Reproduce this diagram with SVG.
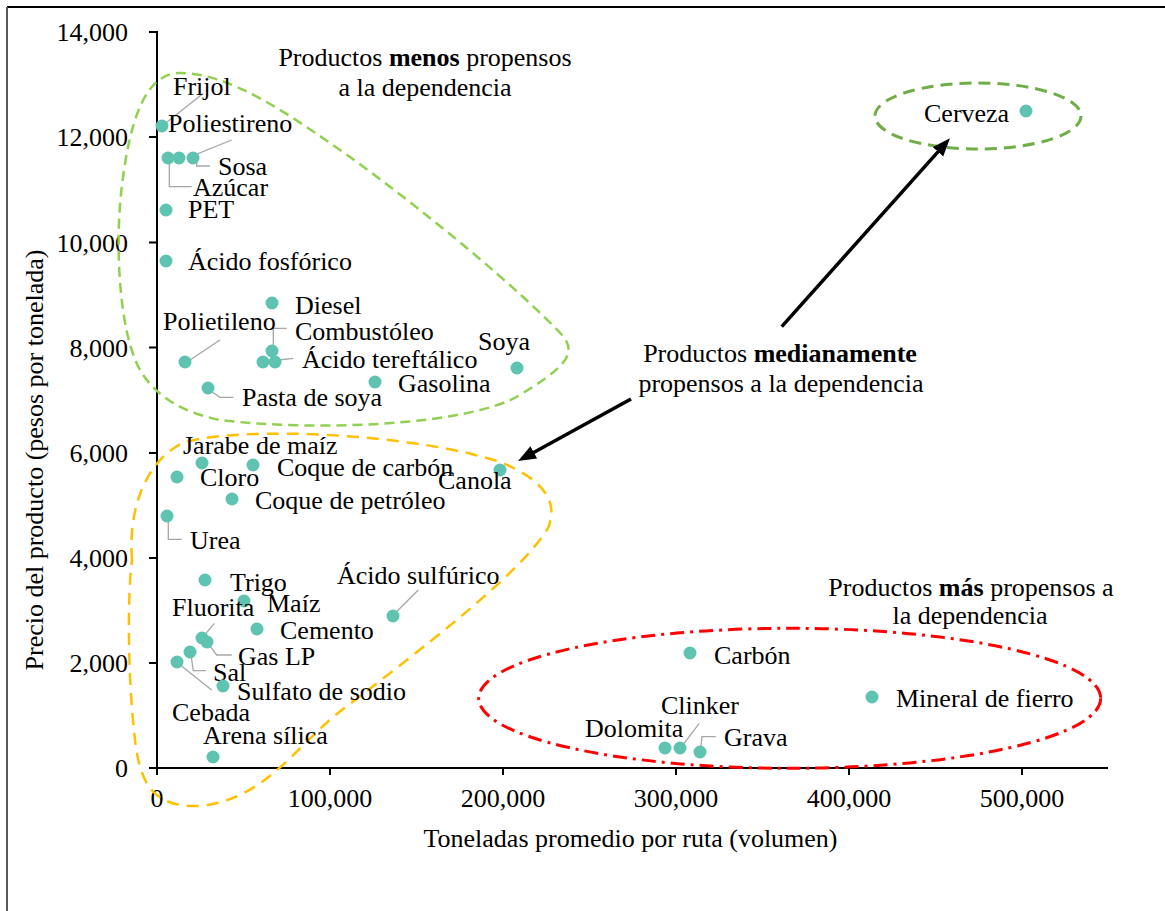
<svg xmlns="http://www.w3.org/2000/svg" width="1165" height="911" viewBox="0 0 1165 911">
<style>
text{font-family:"Liberation Serif","Times New Roman",serif;font-size:26px;fill:#000}
.b{font-weight:bold}
.tk{text-anchor:end}
.tx{text-anchor:middle}
.pt{fill:#5ec4b1}
.ld{fill:none;stroke:#a6a6a6;stroke-width:1.3}
.ax{stroke:#000;stroke-width:2;fill:none}
.arr{stroke:#000;stroke-width:3.5;fill:none;marker-end:url(#ah)}
</style>
<defs>
<marker id="ah" markerUnits="userSpaceOnUse" markerWidth="20" markerHeight="16" refX="8" refY="7" orient="auto">
<path d="M0,0 L18,7 L0,14 z" fill="#000"/>
</marker>
</defs>
<rect width="1165" height="911" fill="#fff"/>
<g id="frame">
<line x1="7" y1="7" x2="1165" y2="7" stroke="#000" stroke-width="2"/>
<line x1="7" y1="7" x2="7" y2="911" stroke="#595959" stroke-width="2"/>
</g>
<g id="axes">
<path class="ax" d="M157,31 V768 H1108"/>
<path class="ax" d="M149,32 H157 M149,137 H157 M149,242.5 H157 M149,347.5 H157 M149,453 H157 M149,558 H157 M149,663 H157 M149,768 H157"/>
<path class="ax" d="M157,768 V775 M330,768 V775 M503,768 V775 M676,768 V775 M849,768 V775 M1022,768 V775"/>
<text class="tk" x="128" y="41">14,000</text>
<text class="tk" x="128" y="146">12,000</text>
<text class="tk" x="128" y="251.5">10,000</text>
<text class="tk" x="128" y="356.5">8,000</text>
<text class="tk" x="128" y="462">6,000</text>
<text class="tk" x="128" y="567">4,000</text>
<text class="tk" x="128" y="672">2,000</text>
<text class="tk" x="128" y="777">0</text>
<text class="tx" x="157" y="807">0</text>
<text class="tx" x="330" y="807">100,000</text>
<text class="tx" x="503" y="807">200,000</text>
<text class="tx" x="676" y="807">300,000</text>
<text class="tx" x="849" y="807">400,000</text>
<text class="tx" x="1022" y="807">500,000</text>
<text class="tx" x="630.5" y="847">Toneladas promedio por ruta (volumen)</text>
<text class="tx" transform="translate(43,460) rotate(-90)">Precio del producto (pesos por tonelada)</text>
</g>
<g id="regions">
<path id="zona-menos" d="M140,370 C118,330 115,240 122,185 C130,120 145,75 178,73 C230,72 290,115 350,157 C430,215 520,290 562,335 C580,355 560,370 520,395 C470,425 320,432 220,420 C180,412 155,395 140,370 Z" fill="none" stroke="#92d050" stroke-width="2.5" stroke-dasharray="10 6"/>
<path id="zona-media" d="M132,560 C128,510 145,460 185,442 C250,425 420,435 500,462 C540,478 560,500 548,528 C520,575 420,650 333,717 C290,755 260,800 200,806 C150,808 140,780 135,740 C128,680 127,600 132,560 Z" fill="none" stroke="#ffc000" stroke-width="2.5" stroke-dasharray="12 8"/>
<ellipse id="zona-mas" cx="789.7" cy="698.3" rx="311" ry="70" fill="none" stroke="#ff0000" stroke-width="3" stroke-dasharray="14 6 3 6"/>
<ellipse id="zona-cerveza" cx="978" cy="116" rx="103" ry="33" fill="none" stroke="#70ad47" stroke-width="3" stroke-dasharray="12 7"/>
</g>
<g id="notes">
<g id="nota-menos">
<text class="tx" x="425" y="65.5">Productos <tspan class="b">menos</tspan> propensos</text>
<text class="tx" x="425" y="95.5">a la dependencia</text>
</g>
<g id="nota-media">
<text class="tx" x="780" y="362">Productos <tspan class="b">medianamente</tspan></text>
<text class="tx" x="781" y="392">propensos a la dependencia</text>
</g>
<g id="nota-mas">
<text class="tx" x="971" y="595.5">Productos <tspan class="b">más</tspan> propensos a</text>
<text class="tx" x="970" y="624">la dependencia</text>
</g>
</g>
<g id="connectors">
<line class="arr" x1="781.7" y1="326.7" x2="943.3" y2="145.8"/>
<line class="arr" x1="631" y1="399" x2="526.8" y2="456.2"/>
</g>
<g id="points">
<g id="frijol"><polyline class="ld" points="163.3,125 203.3,93.3"/><circle class="pt" cx="162" cy="126" r="6.5"/><text x="173" y="95">Frijol</text></g>
<g id="azucar"><polyline class="ld" points="169.3,160 169.3,186.7 191.7,186.7"/><circle class="pt" cx="168" cy="158" r="6.5"/><text x="193" y="196">Azúcar</text></g>
<g id="poliestireno"><polyline class="ld" points="188,157.7 231.7,140"/><circle class="pt" cx="179" cy="158" r="6.5"/><text x="168" y="132">Poliestireno</text></g>
<g id="sosa"><polyline class="ld" points="196.7,160 196.7,166 210,166"/><circle class="pt" cx="193" cy="158" r="6.5"/><text x="218" y="175">Sosa</text></g>
<g id="pet"><circle class="pt" cx="166" cy="210" r="6.5"/><text x="188" y="218">PET</text></g>
<g id="acido-fosforico"><circle class="pt" cx="166" cy="261" r="6.5"/><text x="188" y="270">Ácido fosfórico</text></g>
<g id="diesel"><circle class="pt" cx="272" cy="303" r="6.5"/><text x="295" y="314">Diesel</text></g>
<g id="combustoleo"><polyline class="ld" points="273.3,347 273.3,328.3 286.7,328.3"/><circle class="pt" cx="272" cy="351" r="6.5"/><text x="295" y="340">Combustóleo</text></g>
<g id="acido-tereftalico"><polyline class="ld" points="278.3,360 293.3,358.3"/><circle class="pt" cx="263" cy="362" r="6.5"/><circle class="pt" cx="275" cy="362" r="6.5"/><text x="302" y="368">Ácido tereftálico</text></g>
<g id="polietileno"><polyline class="ld" points="190,360 220,340"/><circle class="pt" cx="185" cy="362" r="6.5"/><text x="163" y="330">Polietileno</text></g>
<g id="pasta-de-soya"><polyline class="ld" points="211.7,391.7 220,397.3 233.3,397.3"/><circle class="pt" cx="208" cy="388" r="6.5"/><text x="242" y="406">Pasta de soya</text></g>
<g id="gasolina"><circle class="pt" cx="375" cy="382" r="6.5"/><text x="398" y="392">Gasolina</text></g>
<g id="soya"><circle class="pt" cx="517" cy="368" r="6.5"/><text x="478" y="350">Soya</text></g>
<g id="jarabe-de-maiz"><circle class="pt" cx="202" cy="463" r="6.5"/><text x="183" y="454">Jarabe de maíz</text></g>
<g id="coque-de-carbon"><circle class="pt" cx="253" cy="465" r="6.5"/><text x="277" y="475.5">Coque de carbón</text></g>
<g id="cloro"><circle class="pt" cx="177" cy="477" r="6.5"/><text x="200" y="485.5">Cloro</text></g>
<g id="canola"><circle class="pt" cx="500" cy="470" r="6.5"/><text x="438" y="489">Canola</text></g>
<g id="coque-de-petroleo"><circle class="pt" cx="232" cy="499" r="6.5"/><text x="255" y="509">Coque de petróleo</text></g>
<g id="urea"><polyline class="ld" points="168.3,517 168.3,539.3 181.7,539.3"/><circle class="pt" cx="167" cy="516" r="6.5"/><text x="190" y="549">Urea</text></g>
<g id="trigo"><circle class="pt" cx="205" cy="580" r="6.5"/><text x="230" y="590.5">Trigo</text></g>
<g id="maiz"><circle class="pt" cx="244" cy="601" r="6.5"/><text x="267" y="612">Maíz</text></g>
<g id="acido-sulfurico"><polyline class="ld" points="395,613.3 418.3,590"/><circle class="pt" cx="393" cy="616" r="6.5"/><text x="337" y="584">Ácido sulfúrico</text></g>
<g id="fluorita"><polyline class="ld" points="203.3,636.7 214.3,623.3"/><circle class="pt" cx="202" cy="638" r="6.5"/><text x="172" y="615.5">Fluorita</text></g>
<g id="cemento"><circle class="pt" cx="257" cy="629" r="6.5"/><text x="280" y="639">Cemento</text></g>
<g id="gas-lp"><polyline class="ld" points="206.7,641.7 216.7,655 231.7,655"/><circle class="pt" cx="207" cy="642" r="6.5"/><text x="238" y="664.5">Gas LP</text></g>
<g id="sal"><polyline class="ld" points="190.7,653.3 193.3,670.7 206,670.7"/><circle class="pt" cx="190" cy="652" r="6.5"/><text x="213" y="680.5">Sal</text></g>
<g id="cebada"><polyline class="ld" points="176.7,662.3 211.7,690"/><circle class="pt" cx="177" cy="662" r="6.5"/><text x="172" y="720.5">Cebada</text></g>
<g id="sulfato-de-sodio"><circle class="pt" cx="223" cy="686" r="6.5"/><text x="237" y="700">Sulfato de sodio</text></g>
<g id="arena-silica"><circle class="pt" cx="213" cy="757" r="6.5"/><text x="203" y="744">Arena sílica</text></g>
<g id="carbon"><circle class="pt" cx="690" cy="653" r="6.5"/><text x="714" y="664">Carbón</text></g>
<g id="mineral-de-fierro"><circle class="pt" cx="872" cy="697" r="6.5"/><text x="896" y="707">Mineral de fierro</text></g>
<g id="dolomita"><circle class="pt" cx="665" cy="748" r="6.5"/><text x="585" y="737">Dolomita</text></g>
<g id="clinker"><polyline class="ld" points="680.4,748.3 699.2,723.3"/><circle class="pt" cx="680" cy="748" r="6.5"/><text x="661" y="714">Clinker</text></g>
<g id="grava"><polyline class="ld" points="700.4,751.7 702,736.7 715.8,736.7"/><circle class="pt" cx="700" cy="752" r="6.5"/><text x="724" y="745.5">Grava</text></g>
<g id="cerveza"><circle class="pt" cx="1026" cy="111" r="6.5"/><text x="924" y="122">Cerveza</text></g>
</g>
</svg>
